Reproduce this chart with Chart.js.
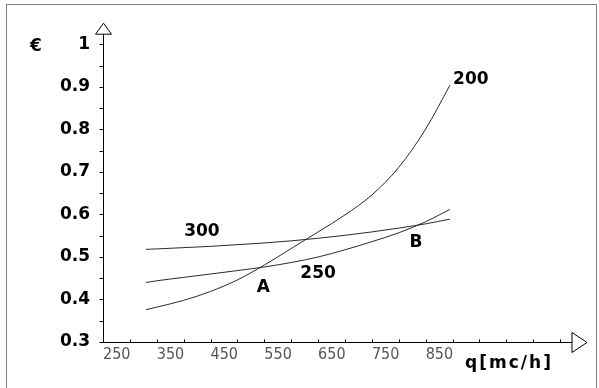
<!DOCTYPE html>
<html>
<head>
<meta charset="utf-8">
<script src="https://cdn.jsdelivr.net/npm/chart.js@4.4.1/dist/chart.umd.min.js"></script>
<style>
  body { margin: 0; background: #fff; }
  canvas { display: block; }
</style>
</head>
<body>
<canvas id="myChart" width="599" height="388"></canvas>
<script>
// portata q [mc/h] e costi per i tre diametri
const qValues = [330, 350, 400, 450, 500, 550, 600, 650, 700, 750, 800, 850, 895];
const cost200 = [0.376, 0.382, 0.398, 0.419, 0.446, 0.481, 0.520, 0.559, 0.599, 0.646, 0.711, 0.801, 0.904];
const cost250 = [0.440, 0.444, 0.452, 0.460, 0.468, 0.4765, 0.487, 0.500, 0.517, 0.536, 0.557, 0.583, 0.612];
const cost300 = [0.518, 0.519, 0.522, 0.525, 0.529, 0.533, 0.538, 0.544, 0.551, 0.559, 0.568, 0.578, 0.589];

const xLabelValues = [250, 350, 450, 550, 650, 750, 850];
const yLabelValues = [0.3, 0.4, 0.5, 0.6, 0.7, 0.8, 0.9, 1];

// scritte sul grafico (in coordinate dei dati)
const notes = [
    { text: '300', q: 434, c: 0.559 },
    { text: '250', q: 650, c: 0.460 },
    { text: '200', q: 934, c: 0.918 },
    { text: 'A', q: 548, c: 0.427 },
    { text: 'B', q: 832, c: 0.533 }
];

const boldFont = 'bold 17px "DejaVu Sans", Verdana, sans-serif';

function toPoints(ys) {
    return qValues.map((q, i) => ({ x: q, y: ys[i] }));
}

function line(data) {
    return {
        data: toPoints(data),
        borderColor: '#2a2a2a',
        borderWidth: 1,
        pointRadius: 0,
        fill: false,
        cubicInterpolationMode: 'monotone'
    };
}

const axesPlugin = {
    id: 'axes',
    beforeDraw(chart) {
        const c = chart.ctx;
        c.save();
        c.fillStyle = '#fff';
        c.fillRect(0, 0, chart.width, chart.height);
        c.strokeStyle = '#808080';
        c.lineWidth = 1;
        c.strokeRect(6.5, 4.5, 590, 390);
        c.restore();
    },
    afterDraw(chart) {
        const c = chart.ctx;
        const x = chart.scales.x;
        const y = chart.scales.y;
        const area = chart.chartArea;
        const x0 = Math.round(x.getPixelForValue(250)) + 0.5;
        const y0 = Math.round(y.getPixelForValue(0.3)) + 0.5;

        c.save();
        c.strokeStyle = '#000';
        c.lineWidth = 1;

        // assi
        c.beginPath();
        c.moveTo(x0, y0);
        c.lineTo(x0, area.top + 11);
        c.moveTo(x0, y0);
        c.lineTo(area.right - 15, y0);
        c.stroke();

        // tacche
        c.beginPath();
        y.ticks.forEach(t => {
            if (t.value > 1.001) return;
            const py = Math.round(y.getPixelForValue(t.value)) + 0.5;
            c.moveTo(x0 - 4, py);
            c.lineTo(x0, py);
        });
        x.ticks.forEach(t => {
            if (t.value <= 250 || t.value > 1100) return;
            const px = Math.round(x.getPixelForValue(t.value)) + 0.5;
            c.moveTo(px, y0);
            c.lineTo(px, y0 - 3);
        });
        c.stroke();

        // frecce
        c.fillStyle = '#fff';
        c.beginPath();
        c.moveTo(x0, area.top);
        c.lineTo(x0 - 8, area.top + 11);
        c.lineTo(x0 + 8, area.top + 11);
        c.closePath();
        c.fill();
        c.stroke();

        c.beginPath();
        c.moveTo(area.right, y0);
        c.lineTo(area.right - 15, y0 - 10);
        c.lineTo(area.right - 15, y0 + 10);
        c.closePath();
        c.fill();
        c.stroke();

        // titoli assi
        c.fillStyle = '#000';
        c.font = boldFont;
        c.textAlign = 'center';
        c.textBaseline = 'middle';
        c.fillText('€', 36, y.getPixelForValue(1) + 2);
        c.letterSpacing = '2px';
        c.fillText('q[mc/h]', 509, y0 + 21);
        c.letterSpacing = '0px';

        notes.forEach(n => {
            c.fillText(n.text, x.getPixelForValue(n.q), y.getPixelForValue(n.c));
        });
        c.restore();
    }
};

new Chart(document.getElementById('myChart'), {
    type: 'line',
    data: {
        datasets: [line(cost200), line(cost250), line(cost300)]
    },
    options: {
        responsive: false,
        animation: false,
        layout: { padding: { left: 0, top: 17, right: 12, bottom: 0 } },
        plugins: {
            legend: { display: false },
            tooltip: { enabled: false }
        },
        scales: {
            x: {
                type: 'linear',
                min: 250,
                max: 1150,
                border: { display: false },
                grid: { display: false, drawTicks: false },
                afterFit: (s) => { s.height = 46; },
                ticks: {
                    stepSize: 50,
                    autoSkip: false,
                    maxRotation: 0,
                    align: 'start',
                    padding: 3,
                    color: '#555',
                    font: { family: '"Liberation Sans Narrow", "DejaVu Sans Condensed", sans-serif', size: 16 },
                    callback: (v) => xLabelValues.includes(v) ? String(v) : ''
                }
            },
            y: {
                min: 0.3,
                max: 1.05,
                border: { display: false },
                grid: { display: false, drawTicks: false },
                afterFit: (s) => { s.width = 103; },
                ticks: {
                    stepSize: 0.05,
                    autoSkip: false,
                    padding: 13,
                    color: '#000',
                    font: { family: '"DejaVu Sans", Verdana, sans-serif', size: 17, weight: 'bold' },
                    callback: (v) => {
                        const r = Math.round(v * 10) / 10;
                        if (Math.abs(v - r) > 0.001 || !yLabelValues.includes(r)) return '';
                        return String(r);
                    }
                }
            }
        }
    },
    plugins: [axesPlugin]
});
</script>
</body>
</html>
